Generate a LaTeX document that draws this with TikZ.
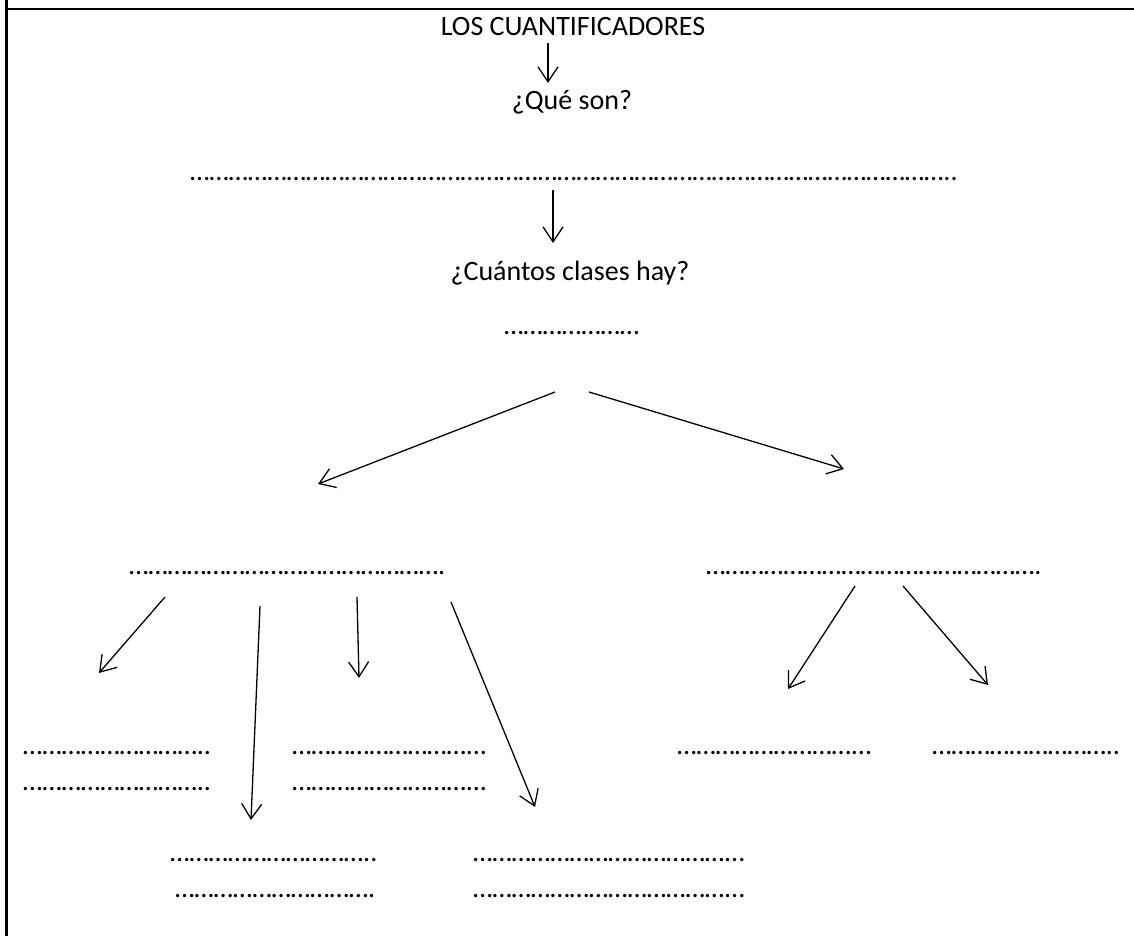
\documentclass[tikz,border=0pt]{standalone}
\usepackage{fontspec}
\setmainfont{Carlito}
\usetikzlibrary{arrows.meta}
\ExplSyntaxOn
\NewDocumentCommand\repdots{m}{\prg_replicate:nn{#1}{…}}
\ExplSyntaxOff
\tikzset{
  lbl/.style={inner sep=0pt, outer sep=0pt, anchor=base, font=\fontsize{28}{32}\selectfont},
  dotl/.style={inner sep=0pt, outer sep=0pt, anchor=base west, font=\fontsize{28}{32}\selectfont},
  arr/.style={line width=1.3pt, -{Straight Barb[length=15pt,width=20pt,line width=1.3pt]}},
  frame/.style={line width=2.6pt}
}
\begin{document}
\begin{tikzpicture}[x=1pt,y=-1pt]
\useasboundingbox (0,0) rectangle (1134,936);
% frame
\coordinate (fl1) at (6.7,0);
\coordinate (fl2) at (6.7,936);
\coordinate (fc) at (6.7,9);
\coordinate (ft2) at (1134,9);
\draw[frame] (fl1) -- (fl2);
\draw[frame] (fc) -- (ft2);
% texts
\node[lbl] (title) at (573,36) {LOS CUANTIFICADORES};
\node[lbl] (que) at (572,110) {¿Qué son?};
\node[dotl] (d1) at (190,180) {\repdots{39}..};
\node[lbl] (cuantos) at (570,280) {¿Cuántos clases hay?};
\node[dotl] (d2) at (504,334) {\repdots{7}};
\node[dotl] (d3) at (129,574) {\repdots{16}.};
\node[dotl] (d4) at (706,574) {\repdots{17}.};
\node[dotl] (l1a) at (23,754) {\repdots{9}..};
\node[dotl] (l1b) at (23,790) {\repdots{9}..};
\node[dotl] (l2a) at (292,754) {\repdots{9}...};
\node[dotl] (l2b) at (292,790) {\repdots{9}...};
\node[dotl] (r1) at (677,754) {\repdots{9}...};
\node[dotl] (r2) at (932,754) {\repdots{9}..};
\node[dotl] (b1a) at (170,861) {\repdots{10}..};
\node[dotl] (b1b) at (175,897) {\repdots{10}.};
\node[dotl] (b2a) at (473,861) {\repdots{13}...};
\node[dotl] (b2b) at (473,897) {\repdots{13}...};
% arrow coordinates
\coordinate (a1s) at (548,43);  \coordinate (a1e) at (548,83);
\coordinate (a2s) at (553,190); \coordinate (a2e) at (553,243);
\coordinate (a3s) at (555,392); \coordinate (a3e) at (318,484);
\coordinate (a4s) at (589,392); \coordinate (a4e) at (844,469);
\coordinate (as) at (165,597); \coordinate (ae) at (99,673);
\coordinate (bs) at (260,606); \coordinate (be) at (251,820);
\coordinate (cs) at (357,597); \coordinate (ce) at (359,678);
\coordinate (ds) at (451,602); \coordinate (de) at (535,807);
\coordinate (es) at (855,586); \coordinate (ee) at (788,689);
\coordinate (fs) at (903,586); \coordinate (fe) at (988,685);
\draw[arr] (a1s) -- (a1e);
\draw[arr] (a2s) -- (a2e);
\draw[arr] (a3s) -- (a3e);
\draw[arr] (a4s) -- (a4e);
\draw[arr] (as) -- (ae);
\draw[arr] (bs) -- (be);
\draw[arr] (cs) -- (ce);
\draw[arr] (ds) -- (de);
\draw[arr] (es) -- (ee);
\draw[arr] (fs) -- (fe);
\end{tikzpicture}
\end{document}
